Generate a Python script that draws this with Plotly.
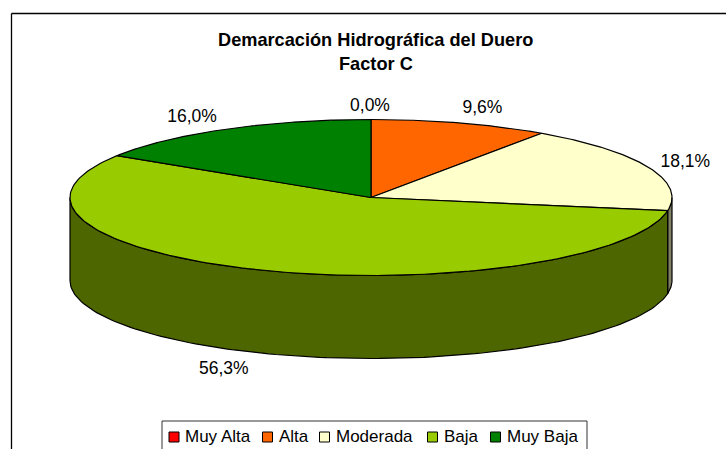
import numpy as np
import plotly.graph_objects as go

title_lines = ["Demarcación Hidrográfica del Duero", "Factor C"]
categories = ["Muy Alta", "Alta", "Moderada", "Baja", "Muy Baja"]
values = [0.0, 9.6, 18.1, 56.3, 16.0]
value_labels = ["0,0%", "9,6%", "18,1%", "56,3%", "16,0%"]
top_colors = ["#FF0000", "#FF6600", "#FFFFCC", "#99CC00", "#008000"]
side_colors = ["#800000", "#803300", "#808066", "#4D6600", "#004000"]

W, H = 726, 449
CX, CY, RX, RY, DEPTH = 371, 197.5, 301, 78, 83
label_offsets = [(-1, -13), (22, -14), (37, -5), (-39, 99), (-34, -12)]
legend_swatch_x = [174, 267.5, 324.5, 432.5, 495.5]
legend_text_x = [185, 279, 336, 444, 507]
LEGEND_SWATCH_Y = 437
LEGEND_TEXT_Y = 438
FONT = "Liberation Sans"
EDGE = 1.2


def rim(theta_deg, dy=0.0):
    t = np.radians(theta_deg)
    return CX + RX * np.sin(t), CY - RY * np.cos(t) + dy


fig = go.Figure()
total = sum(values)
edges = np.concatenate([[0.0], np.cumsum(values) / total * 360.0])

# visible side walls (front half of the disc)
for i in range(len(values)):
    a, b = max(edges[i], 90.0), min(edges[i + 1], 270.0)
    if b <= a:
        continue
    th = np.linspace(a, b, 120)
    xt, yt = rim(th)
    xb, yb = rim(th[::-1], DEPTH)
    fig.add_trace(go.Scatter(
        x=np.r_[xt, xb, xt[0]], y=np.r_[yt, yb, yt[0]], mode="lines",
        fill="toself", fillcolor=side_colors[i],
        line=dict(color="#000000", width=EDGE), hoverinfo="skip", showlegend=False))

# top faces
for i in range(len(values)):
    th = np.linspace(edges[i], edges[i + 1], 160)
    xt, yt = rim(th)
    fig.add_trace(go.Scatter(
        x=np.r_[CX, xt, CX], y=np.r_[CY, yt, CY], mode="lines",
        fill="toself", fillcolor=top_colors[i],
        line=dict(color="#000000", width=EDGE), name=categories[i],
        hoverinfo="name", showlegend=False))

# value labels, placed relative to each slice's mid-angle on the rim
mids = (edges[:-1] + edges[1:]) / 2
lx, ly = rim(mids)
fig.add_trace(go.Scatter(
    x=lx + np.array([o[0] for o in label_offsets]),
    y=ly + np.array([o[1] for o in label_offsets]),
    mode="text", text=value_labels, textposition="middle center",
    textfont=dict(family=FONT, size=17.5, color="#000000"),
    hoverinfo="skip", showlegend=False))

# legend swatches and names
fig.add_trace(go.Scatter(
    x=legend_swatch_x, y=[LEGEND_SWATCH_Y] * 5, mode="markers",
    marker=dict(symbol="square", size=10, color=top_colors,
                line=dict(color="#000000", width=1)),
    hoverinfo="skip", showlegend=False))
fig.add_trace(go.Scatter(
    x=legend_text_x, y=[LEGEND_TEXT_Y] * 5, mode="text", text=categories,
    textposition="middle right",
    textfont=dict(family=FONT, size=17, color="#000000"),
    hoverinfo="skip", showlegend=False))

for text, y in zip(title_lines, [40, 64]):
    fig.add_annotation(x=375.5, y=y, xref="x", yref="y", text=f"<b>{text}</b>",
                       showarrow=False, xanchor="center", yanchor="middle",
                       font=dict(family=FONT, size=18.2, color="#000000"))

fig.update_layout(
    width=W, height=H, autosize=False, margin=dict(l=0, r=0, t=0, b=0),
    paper_bgcolor="#FFFFFF", plot_bgcolor="#FFFFFF", showlegend=False,
    xaxis=dict(range=[0, W], visible=False, fixedrange=True),
    yaxis=dict(range=[H, 0], visible=False, fixedrange=True),
    shapes=[
        dict(type="line", xref="x", yref="y", x0=11.5, x1=W, y0=13.5, y1=13.5,
             line=dict(color="#000000", width=1.3), layer="below"),
        dict(type="line", xref="x", yref="y", x0=11.5, x1=11.5, y0=13.5, y1=H,
             line=dict(color="#000000", width=1.3), layer="below"),
        dict(type="rect", xref="x", yref="y", x0=162, x1=587, y0=421, y1=H + 5,
             line=dict(color="#333333", width=1), fillcolor="#FFFFFF", layer="below"),
    ],
)
fig.write_html("out.html", config={"displayModeBar": False},
               post_script="document.body.style.margin='0';document.body.style.overflow='hidden';")
